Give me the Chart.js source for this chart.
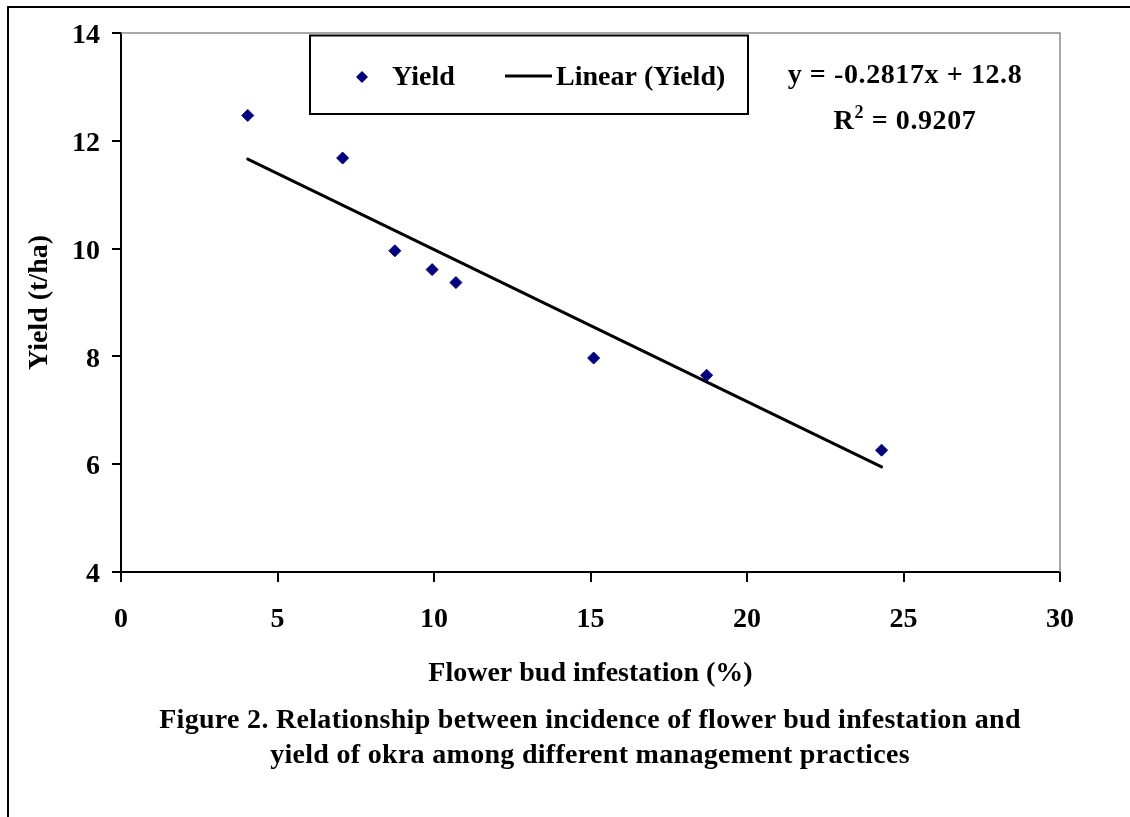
<!DOCTYPE html>
<html>
<head>
<meta charset="utf-8">
<script src="https://cdn.jsdelivr.net/npm/chart.js@4.4.0/dist/chart.umd.min.js"></script>
<style>
  body { margin: 0; background: #fff; overflow: hidden; }
  #wrap { position: relative; width: 1130px; height: 817px; overflow: hidden; }
  #frame { position: absolute; left: 7px; top: 6px; width: 1200px; height: 900px;
           border-top: 2px solid #000; border-left: 2px solid #000; }
  canvas { position: absolute; left: 0; top: 0; }
  .txt { position: absolute; font-family: "Liberation Serif", "Times New Roman", serif;
         font-weight: bold; font-size: 28px; line-height: 35px; text-align: center; color: #000;
         white-space: nowrap; }
  .eq { letter-spacing: 0.6px; }
  .cap { letter-spacing: 0.3px; }
  .sup { font-size: 18px; position: relative; top: -11px; }
</style>
</head>
<body>
<div id="wrap">
  <div id="frame"></div>
  <canvas id="okraChart" width="1130" height="817"></canvas>
  <div class="txt eq" style="left:755px; top:56px; width:300px;">y = -0.2817x + 12.8</div>
  <div class="txt eq" style="left:755px; top:102px; width:300px;">R<span class="sup">2</span> = 0.9207</div>
  <div class="txt cap" style="left:130px; top:701px; width:920px;">Figure 2. Relationship between incidence of flower bud infestation and<br>yield of okra among different management practices</div>
</div>
<script>
// Dati
const infestazione = [4.05, 7.08, 8.75, 9.94, 10.70, 15.10, 18.71, 24.30];
const resa = [12.47, 11.68, 9.96, 9.61, 9.37, 7.97, 7.65, 6.26];

// Linea di tendenza (estremi)
const trendX = [4.05, 24.30];
const trendY = [11.66, 5.95];

// Assi
const xMin = 0, xMax = 30, xStep = 5;
const yMin = 4, yMax = 14, yStep = 2;

const NAVY = "#000080";
const FONT = "'Liberation Serif', 'Times New Roman', serif";

Chart.defaults.font.family = FONT;
Chart.defaults.font.size = 28;
Chart.defaults.font.weight = "bold";
Chart.defaults.color = "#000";

// Cornice grigia + legenda
const decor = {
  id: "decor",
  beforeDatasetsDraw(chart) {
    const { ctx, chartArea: a } = chart;
    ctx.save();
    ctx.strokeStyle = "#8c8c8c";
    ctx.lineWidth = 1.5;
    ctx.beginPath();
    ctx.moveTo(a.left, a.top);
    ctx.lineTo(a.right, a.top);
    ctx.lineTo(a.right, a.bottom);
    ctx.stroke();
    ctx.restore();
  },
  afterDatasetsDraw(chart) {
    const ctx = chart.ctx;
    const ds = chart.data.datasets;
    ctx.save();
    ctx.fillStyle = "#fff";
    ctx.fillRect(310, 35.5, 438, 78.5);
    ctx.strokeStyle = "#000";
    ctx.lineWidth = 2;
    ctx.strokeRect(310, 35.5, 438, 78.5);

    // marcatore Yield
    const r = 6;
    ctx.fillStyle = NAVY;
    ctx.beginPath();
    ctx.moveTo(362 - r, 77);
    ctx.lineTo(362, 77 - r);
    ctx.lineTo(362 + r, 77);
    ctx.lineTo(362, 77 + r);
    ctx.closePath();
    ctx.fill();

    // linea Linear (Yield)
    ctx.strokeStyle = "#000";
    ctx.lineWidth = 3;
    ctx.beginPath();
    ctx.moveTo(505, 76);
    ctx.lineTo(552, 76);
    ctx.stroke();

    ctx.fillStyle = "#000";
    ctx.font = "bold 28px " + FONT;
    ctx.textBaseline = "alphabetic";
    ctx.fillText(ds[0].label, 392, 85);
    ctx.fillText(ds[1].label, 556, 85);
    ctx.restore();
  },
};

const ctx = document.getElementById("okraChart");

new Chart(ctx, {
  type: "scatter",
  data: {
    datasets: [
      {
        label: "Yield",
        data: infestazione.map((x, i) => ({ x, y: resa[i] })),
        pointStyle: "rectRot",
        pointRadius: 6,
        pointBorderWidth: 1,
        backgroundColor: NAVY,
        borderColor: NAVY,
      },
      {
        label: "Linear (Yield)",
        data: trendX.map((x, i) => ({ x, y: trendY[i] })),
        showLine: true,
        pointRadius: 0,
        borderColor: "#000",
        borderWidth: 3,
        borderCapStyle: "round",
      },
    ],
  },
  options: {
    responsive: false,
    animation: false,
    devicePixelRatio: 1,
    layout: { padding: { left: 23, top: 33, right: 70, bottom: 126 } },
    plugins: {
      legend: { display: false },
      tooltip: { enabled: false },
    },
    scales: {
      x: {
        type: "linear",
        min: xMin,
        max: xMax,
        ticks: { stepSize: xStep, padding: 21, color: "#000" },
        grid: { drawOnChartArea: false, drawTicks: true, tickLength: 10, color: "#000", lineWidth: 2 },
        border: { color: "#000", width: 2 },
        title: { display: true, text: "Flower bud infestation (%)", padding: 0, color: "#000" },
        afterFit(scale) { scale.height = 119; },
      },
      y: {
        type: "linear",
        min: yMin,
        max: yMax,
        ticks: { stepSize: yStep, padding: 12, labelOffset: 3, color: "#000" },
        grid: { drawOnChartArea: false, drawTicks: true, tickLength: 9, color: "#000", lineWidth: 2 },
        border: { color: "#000", width: 2 },
        title: { display: true, text: "Yield (t/ha)", padding: 0, color: "#000" },
        afterFit(scale) { scale.width = 98; },
      },
    },
  },
  plugins: [decor],
});
</script>
</body>
</html>
